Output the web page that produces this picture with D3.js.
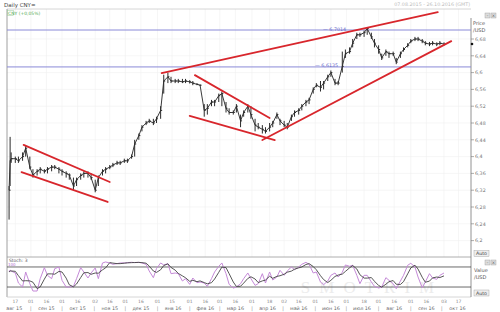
<!DOCTYPE html>
<html><head><meta charset="utf-8">
<script src="https://cdn.jsdelivr.net/npm/d3@7"></script>
<style>
body{margin:0;background:#fff}
svg{display:block;font-family:"DejaVu Sans",sans-serif}
</style>
</head><body>
<svg id="chart" width="500" height="312"></svg>
<script>
// trading days sampled twice a week (Mon / Thu), USD/CNY
const dates = [
  "2015-08-11","2015-08-12","2015-08-13","2015-08-17","2015-08-20","2015-08-24","2015-08-27","2015-08-31",
  "2015-09-03","2015-09-07","2015-09-10","2015-09-14","2015-09-17","2015-09-21","2015-09-24","2015-09-28",
  "2015-10-01","2015-10-05","2015-10-08","2015-10-12","2015-10-15","2015-10-19","2015-10-22","2015-10-26","2015-10-29",
  "2015-11-02","2015-11-05","2015-11-09","2015-11-12","2015-11-16","2015-11-19","2015-11-23","2015-11-26","2015-11-30",
  "2015-12-03","2015-12-07","2015-12-10","2015-12-14","2015-12-17","2015-12-21","2015-12-24","2015-12-28","2015-12-31",
  "2016-01-04","2016-01-07","2016-01-11","2016-01-14","2016-01-18","2016-01-21","2016-01-25","2016-01-28",
  "2016-02-01","2016-02-04","2016-02-08","2016-02-11","2016-02-15","2016-02-18","2016-02-22","2016-02-25","2016-02-29",
  "2016-03-03","2016-03-07","2016-03-10","2016-03-14","2016-03-17","2016-03-21","2016-03-24","2016-03-28","2016-03-31",
  "2016-04-04","2016-04-07","2016-04-11","2016-04-14","2016-04-18","2016-04-21","2016-04-25","2016-04-28",
  "2016-05-02","2016-05-05","2016-05-09","2016-05-12","2016-05-16","2016-05-19","2016-05-23","2016-05-26","2016-05-30",
  "2016-06-02","2016-06-06","2016-06-09","2016-06-13","2016-06-16","2016-06-20","2016-06-23","2016-06-27","2016-06-30",
  "2016-07-04","2016-07-07","2016-07-11","2016-07-14","2016-07-18","2016-07-21","2016-07-25","2016-07-28",
  "2016-08-01","2016-08-04","2016-08-08","2016-08-11","2016-08-15","2016-08-18","2016-08-22","2016-08-25","2016-08-29",
  "2016-09-01","2016-09-05","2016-09-08","2016-09-12","2016-09-15","2016-09-19","2016-09-22","2016-09-26","2016-09-29",
  "2016-10-03"
];
const closes = [
  6.32,6.39,6.395,6.395,6.39,6.40,6.42,6.375,
  6.356,6.365,6.37,6.365,6.37,6.375,6.375,6.37,
  6.365,6.36,6.356,6.33,6.345,6.355,6.36,6.36,6.35,
  6.32,6.35,6.365,6.37,6.375,6.38,6.385,6.385,6.39,
  6.39,6.40,6.43,6.45,6.47,6.48,6.485,6.48,6.49,
  6.51,6.58,6.59,6.58,6.58,6.58,6.578,6.58,
  6.578,6.575,6.572,6.57,6.51,6.515,6.53,6.53,6.545,
  6.55,6.515,6.505,6.505,6.52,6.485,6.505,6.52,6.50,
  6.475,6.47,6.465,6.46,6.47,6.48,6.50,6.485,
  6.475,6.47,6.495,6.505,6.51,6.52,6.53,6.535,6.56,
  6.57,6.565,6.575,6.59,6.60,6.575,6.575,6.615,6.645,
  6.65,6.67,6.69,6.69,6.695,6.705,6.685,6.67,
  6.655,6.635,6.65,6.645,6.645,6.625,6.645,6.655,6.665,
  6.675,6.68,6.68,6.675,6.67,6.668,6.67,6.668,6.67,
  6.668
];
const highs = [
  6.33,6.447,6.41,6.40,6.40,6.41,6.425,6.40,
  6.37,6.37,6.375,6.37,6.375,6.38,6.38,6.375,
  6.37,6.365,6.36,6.35,6.35,6.36,6.365,6.365,6.36,
  6.345,6.355,6.37,6.375,6.38,6.385,6.39,6.39,6.395,
  6.395,6.405,6.44,6.455,6.475,6.485,6.49,6.49,6.495,
  6.52,6.595,6.60,6.59,6.585,6.585,6.585,6.585,
  6.582,6.58,6.575,6.572,6.525,6.525,6.535,6.535,6.55,
  6.555,6.53,6.515,6.51,6.525,6.50,6.51,6.525,6.52,
  6.49,6.48,6.475,6.47,6.48,6.485,6.505,6.49,
  6.485,6.48,6.50,6.51,6.515,6.525,6.535,6.54,6.565,
  6.575,6.58,6.58,6.595,6.605,6.585,6.58,6.65,6.655,
  6.66,6.68,6.695,6.695,6.70,6.708,6.695,6.68,
  6.665,6.645,6.655,6.65,6.65,6.635,6.65,6.66,6.67,
  6.68,6.685,6.685,6.68,6.675,6.673,6.675,6.672,6.675,
  6.672
];
const lows = [
  6.25,6.33,6.385,6.385,6.385,6.39,6.40,6.37,
  6.35,6.355,6.36,6.36,6.36,6.365,6.37,6.36,
  6.355,6.35,6.345,6.32,6.33,6.345,6.35,6.35,6.345,
  6.315,6.33,6.355,6.36,6.37,6.375,6.38,6.38,6.385,
  6.385,6.395,6.40,6.44,6.46,6.475,6.48,6.475,6.48,
  6.49,6.55,6.575,6.575,6.575,6.575,6.575,6.575,
  6.574,6.57,6.57,6.568,6.495,6.50,6.52,6.52,6.53,
  6.52,6.505,6.50,6.50,6.505,6.47,6.495,6.505,6.49,
  6.46,6.465,6.455,6.455,6.46,6.47,6.49,6.475,
  6.47,6.465,6.485,6.495,6.50,6.51,6.52,6.525,6.55,
  6.565,6.555,6.56,6.58,6.59,6.57,6.57,6.60,6.635,
  6.645,6.66,6.68,6.685,6.685,6.69,6.68,6.66,
  6.645,6.63,6.64,6.635,6.64,6.62,6.635,6.65,6.66,
  6.67,6.675,6.675,6.67,6.665,6.663,6.665,6.663,6.665,
  6.665
];
// stochastic %K
const stochK = [
  65,71,68,62,32,20,65,30,
  8,8,45,78,55,45,75,80,
  40,20,20,22,45,78,65,47,62,
  77,45,92,95,92,88,90,92,92,
  93,94,93,94,92,88,68,48,75,
  92,86,90,60,62,60,38,45,
  28,47,33,35,32,22,45,65,82,
  92,60,28,17,20,30,45,62,45,
  25,30,60,32,65,41,50,70,
  55,68,80,72,80,88,94,88,62,
  65,35,27,38,55,62,50,64,86,
  82,85,55,30,55,55,35,22,
  17,20,48,40,30,15,38,55,85,
  91,80,50,18,35,60,47,43,55,
  62
];
const priceTicks = [6.2,6.24,6.28,6.32,6.36,6.4,6.44,6.48,6.52,6.56,6.6,6.64,6.68];
const levels = [6.7014, 6.6135];
const stochLevels = [80, 20];
const trendLines = [
  [["2015-08-25",6.428],["2015-11-16",6.3395]],
  [["2015-08-23",6.363],["2015-11-14",6.292]],
  [["2016-02-06",6.594],["2016-04-18",6.492]],
  [["2016-02-01",6.497],["2016-04-23",6.4395]],
  [["2016-01-05",6.599],["2016-09-27",6.744]],
  [["2016-04-11",6.4395],["2016-10-10",6.675]]
];
const dayTicks = [
  ["2015-08-17","17"],["2015-09-01","01"],["2015-09-16","16"],["2015-10-01","01"],["2015-10-16","16"],
  ["2015-11-02","02"],["2015-11-16","16"],["2015-12-01","01"],["2015-12-16","16"],["2016-01-01","01"],
  ["2016-01-15","15"],["2016-02-01","01"],["2016-02-16","16"],["2016-03-01","01"],["2016-03-16","16"],
  ["2016-04-01","01"],["2016-04-18","18"],["2016-05-02","02"],["2016-05-16","16"],["2016-06-01","01"],
  ["2016-06-16","16"],["2016-07-01","01"],["2016-07-18","18"],["2016-08-01","01"],["2016-08-16","16"],
  ["2016-09-01","01"],["2016-09-16","16"],["2016-10-03","03"],["2016-10-17","17"]
];
const monthLabels = ["авг 15","сен 15","окт 15","ноя 15","дек 15","янв 16","фев 16","мар 16",
  "апр 16","май 16","июн 16","июл 16","авг 16","сен 16","окт 16"];

const parse = d3.timeParse("%Y-%m-%d");
const fmt = d3.format(".2~f");
const comma = s => s.replace(".", ",");

const svg = d3.select("#chart");
const L = 7, R = 471, T = 9, mainBottom = 257, stTop = 257, stBottom = 297;

const x = d3.scaleTime().domain([new Date(2015,7,9), new Date(2016,9,29)]).range([L, R]);
const y = d3.scaleLinear().domain([6.2, 6.68]).range([240.6, 39]);
const ys = d3.scaleLinear().domain([0, 100]).range([293.7, 260.3]);

const bars = dates.map((d, i) => ({date: parse(d), c: closes[i], h: highs[i], l: lows[i], k: stochK[i]}));
bars.forEach((b, i) => { b.d = d3.mean(stochK.slice(Math.max(0, i - 2), i + 1)); });

// header
svg.append("text").attr("x", 4).attr("y", 6.5).attr("font-size", 5.5).attr("fill", "#444").text("Daily CNY=");
svg.append("text").attr("x", 470).attr("y", 6).attr("text-anchor", "end").attr("font-size", 4.8)
  .attr("fill", "#bbb").text("07.08.2015 - 26.10.2016 (GMT)");

// watermark (behind everything)
svg.append("text").attr("x", 372).attr("y", 293).attr("text-anchor", "middle").attr("font-size", 17)
  .attr("font-family", "Liberation Serif, serif").attr("fill", "#ececec").attr("letter-spacing", 9).text("SMOTRIM");

// grid
const grid = svg.append("g").attr("stroke", "#f0f0f0").attr("stroke-width", 0.6);
grid.selectAll(".gy").data(priceTicks).enter().append("line")
  .attr("x1", L).attr("x2", R).attr("y1", d => y(d)).attr("y2", d => y(d));
grid.selectAll(".gx").data(dayTicks).enter().append("line")
  .attr("x1", d => x(parse(d[0]))).attr("x2", d => x(parse(d[0]))).attr("y1", T).attr("y2", mainBottom);

// frame
svg.append("line").attr("x1", L).attr("x2", R).attr("y1", T).attr("y2", T).attr("stroke", "#ccc").attr("stroke-width", 0.8);
svg.append("line").attr("x1", L).attr("x2", L).attr("y1", T).attr("y2", stBottom).attr("stroke", "#888").attr("stroke-width", 0.8);
svg.append("line").attr("x1", L).attr("x2", R).attr("y1", stTop).attr("y2", stTop).attr("stroke", "#999").attr("stroke-width", 0.8);
svg.append("line").attr("x1", L).attr("x2", R).attr("y1", stBottom).attr("y2", stBottom).attr("stroke", "#ccc").attr("stroke-width", 0.8);
svg.append("line").attr("x1", R).attr("x2", R).attr("y1", T + 9).attr("y2", stBottom).attr("stroke", "#777").attr("stroke-width", 0.8);

// legend box
svg.append("rect").attr("x", 7.5).attr("y", 10.5).attr("width", 6).attr("height", 5).attr("fill", "none").attr("stroke", "#9c9").attr("stroke-width", 0.5);
svg.append("text").attr("x", 8).attr("y", 14.6).attr("font-size", 4.5).attr("fill", "#5a5").text("CNY (+0,05%)");

// levels
svg.selectAll(".lvl").data(levels).enter().append("line")
  .attr("x1", L).attr("x2", R).attr("y1", d => y(d)).attr("y2", d => y(d))
  .attr("stroke", "#8a8ad8").attr("stroke-width", 1);
svg.selectAll(".lvlt").data(levels).enter().append("text")
  .attr("x", (d, i) => i === 0 ? 323 : 315).attr("y", d => y(d) + 0.5)
  .attr("font-size", 4.8).attr("fill", "#6a6ac8").text(d => "— " + comma(d3.format(".4f")(d)));

// price bars
svg.append("clipPath").attr("id", "mc").append("rect").attr("x", L).attr("y", T).attr("width", R - L).attr("height", mainBottom - T);
const main = svg.append("g").attr("clip-path", "url(#mc)");
main.append("path").datum(bars)
  .attr("d", d3.line().x(d => x(d.date)).y(d => y(d.c)))
  .attr("fill", "none").attr("stroke", "#3a3a3a").attr("stroke-width", 1);
main.selectAll(".hl").data(bars).enter().append("line")
  .attr("x1", d => x(d.date)).attr("x2", d => x(d.date)).attr("y1", d => y(d.h)).attr("y2", d => y(d.l))
  .attr("stroke", "#2a2a2a").attr("stroke-width", 1);
main.selectAll(".ct").data(bars).enter().append("line")
  .attr("x1", d => x(d.date)).attr("x2", d => x(d.date) + 1.5).attr("y1", d => y(d.c)).attr("y2", d => y(d.c))
  .attr("stroke", "#2a2a2a").attr("stroke-width", 1);

// trend lines
main.selectAll(".tl").data(trendLines).enter().append("line")
  .attr("x1", d => x(parse(d[0][0]))).attr("y1", d => y(d[0][1]))
  .attr("x2", d => x(parse(d[1][0]))).attr("y2", d => y(d[1][1]))
  .attr("stroke", "#d8262c").attr("stroke-width", 1.8).attr("stroke-linecap", "round");

// price axis
const ax = svg.append("g");
ax.selectAll(".pt").data(priceTicks).enter().append("line")
  .attr("x1", R).attr("x2", R + 3).attr("y1", d => y(d)).attr("y2", d => y(d)).attr("stroke", "#777").attr("stroke-width", 0.6);
ax.selectAll(".pl").data(priceTicks).enter().append("text")
  .attr("x", R + 4).attr("y", d => y(d) + 1.8).attr("font-size", 4.8).attr("fill", "#777").text(d => comma(fmt(d)));
svg.append("text").attr("x", 473).attr("y", 25).attr("font-size", 5).attr("fill", "#555").text("Price");
svg.append("text").attr("x", 473).attr("y", 32).attr("font-size", 5).attr("fill", "#555").text("/USD");
svg.append("circle").attr("cx", R + 1).attr("cy", y(closes[closes.length - 1])).attr("r", 1.3).attr("fill", "#111");

// small buttons
function buttons(yy) {
  [485, 491].forEach((bx, i) => {
    svg.append("rect").attr("x", bx).attr("y", yy).attr("width", 5).attr("height", 5).attr("fill", "#ddd").attr("stroke", "#999").attr("stroke-width", 0.4);
    svg.append("text").attr("x", bx + 2.5).attr("y", yy + 4).attr("text-anchor", "middle").attr("font-size", 4).attr("fill", "#555").text(i ? "×" : "–");
  });
}
function autoBtn(yy) {
  svg.append("rect").attr("x", 474).attr("y", yy).attr("width", 15).attr("height", 6).attr("fill", "#eee").attr("stroke", "#999").attr("stroke-width", 0.4);
  svg.append("text").attr("x", 481.5).attr("y", yy + 4.8).attr("text-anchor", "middle").attr("font-size", 4.8).attr("fill", "#444").text("Auto");
}
buttons(13);
autoBtn(250.5);
buttons(260);
autoBtn(290);
svg.append("text").attr("x", 474).attr("y", 272).attr("font-size", 5).attr("fill", "#555").text("Value");
svg.append("text").attr("x", 474).attr("y", 279).attr("font-size", 5).attr("fill", "#555").text("/USD");

// stochastic panel
svg.append("text").attr("x", 9).attr("y", 261.5).attr("font-size", 4.5).attr("fill", "#555").text("Stoch: 3");
svg.selectAll(".sl").data(stochLevels).enter().append("line")
  .attr("x1", L).attr("x2", R).attr("y1", d => ys(d)).attr("y2", d => ys(d)).attr("stroke", "#444").attr("stroke-width", 0.8);
const st = svg.append("g");
st.append("path").datum(bars).attr("d", d3.line().x(d => x(d.date)).y(d => ys(d.k)))
  .attr("fill", "none").attr("stroke", "#c58ad8").attr("stroke-width", 1);
st.append("path").datum(bars).attr("d", d3.line().x(d => x(d.date)).y(d => ys(d.d)))
  .attr("fill", "none").attr("stroke", "#444").attr("stroke-width", 0.9);
svg.append("text").attr("x", 8).attr("y", 265.5).attr("font-size", 4).attr("fill", "#b070d0").text("100");

// time axis
const tx = svg.append("g");
tx.selectAll(".dt").data(dayTicks).enter().append("text")
  .attr("x", d => x(parse(d[0]))).attr("y", 303).attr("text-anchor", "middle").attr("font-size", 4.5).attr("fill", "#888").text(d => d[1]);
const months = d3.timeMonth.range(new Date(2015,7,1), new Date(2016,10,1));
tx.selectAll(".ml").data(monthLabels).enter().append("text")
  .attr("x", (d, i) => x(d3.timeDay.offset(months[i], 15))).attr("y", 309.5).attr("text-anchor", "middle")
  .attr("font-size", 4.8).attr("fill", "#666").text(d => d);
tx.selectAll(".ms").data(months.slice(1)).enter().append("text")
  .attr("x", d => x(d)).attr("y", 309.5).attr("text-anchor", "middle").attr("font-size", 4.8).attr("fill", "#888").text("|");
</script>
</body></html>
